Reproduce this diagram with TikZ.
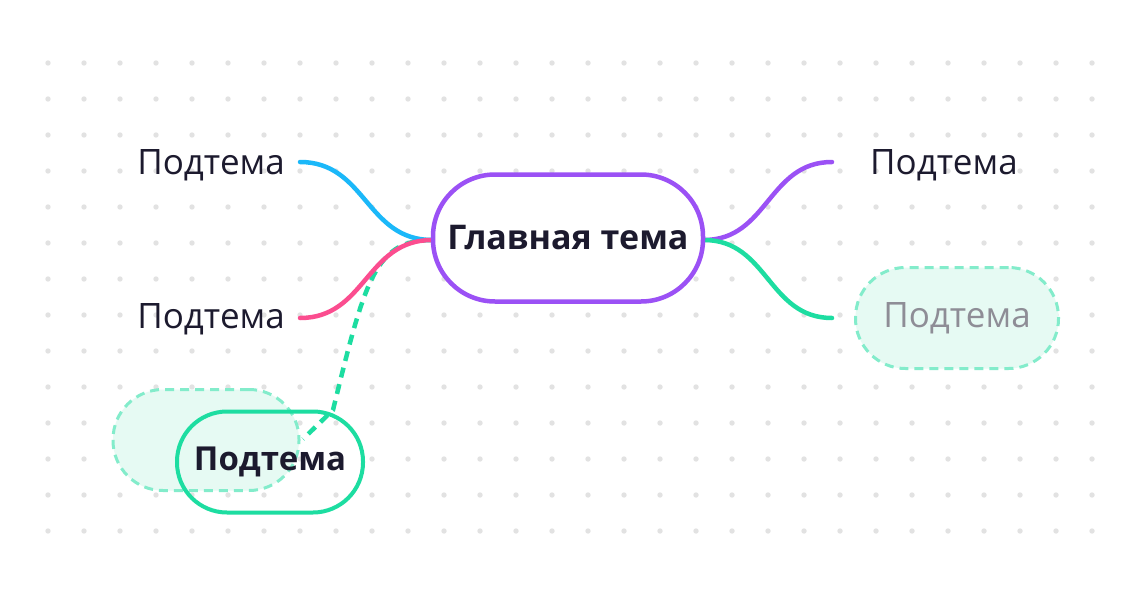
\documentclass[tikz,border=0pt]{standalone}
\usepackage{fontspec}
\setmainfont{Open Sans}
\definecolor{purp}{HTML}{9B51F5}
\definecolor{blu}{HTML}{1BB8F9}
\definecolor{pnk}{HTML}{FB4D8F}
\definecolor{grn}{HTML}{1DDDA1}
\definecolor{lgrn}{HTML}{E6FAF3}
\definecolor{ink}{HTML}{1C1A2E}
\definecolor{dotc}{HTML}{E2E2E2}
\begin{document}
\begin{tikzpicture}[x=1pt,y=-1pt,
  link/.style={line width=4.5pt,line cap=round},
  sub/.style={font=\fontsize{35}{35}\selectfont,text=ink,inner sep=0pt},
  ghost/.style={draw=grn!55,fill=lgrn,dashed,dash pattern=on 9pt off 6pt,line width=3pt,rounded corners=50pt,minimum width=203pt,minimum height=101pt},
]
\useasboundingbox (0,0) rectangle (1140,594);
\fill[white] (0,0) rectangle (1140,594);
\foreach \i in {0,...,29}{\foreach \j in {0,...,13}{\fill[dotc] (48+36*\i,63+36*\j) circle (2.7pt);}}
% ghost nodes
\node[ghost,minimum width=186pt] (g1) at (206,440) {};
\node[ghost] (g2) at (957,318) {\textcolor{ink!50}{\fontsize{35}{35}\selectfont Подтема}};
% connectors (dashed first, under the others)
\coordinate (ml) at (432,240);
\coordinate (mr) at (704,240);
\coordinate (a1) at (300,162);
\coordinate (a2) at (300,318);
\coordinate (a3) at (832,162);
\coordinate (a4) at (832,318);
\coordinate (gd) at (303,439);
\coordinate (gk) at (333,410);
\draw[link,grn,line cap=butt,dash pattern=on 10pt off 7pt] (ml) .. controls (375,240) and (365,280) .. (gk) -- (gd);
\draw[link,blu] (a1) .. controls (366,162) and (366,240) .. (ml);
\draw[link,pnk] (a2) .. controls (366,318) and (366,240) .. (ml);
\draw[link,purp] (a3) .. controls (768,162) and (768,240) .. (mr);
\draw[link,grn] (a4) .. controls (768,318) and (768,240) .. (mr);
% main
\node[draw=purp,line width=4.5pt,fill=white,rounded corners=62pt,minimum width=270pt,minimum height=127pt,font=\fontsize{34}{34}\selectfont\bfseries,text=ink] (m) at (568,238) {Главная тема};
\node[sub,anchor=east] (l1) at (285,165) {Подтема};
\node[sub,anchor=east] (l2) at (285,319) {Подтема};
\node[sub,anchor=west] (r1) at (870,165) {Подтема};
\node[draw=grn,line width=4pt,rounded corners=50pt,minimum width=186pt,minimum height=101pt,font=\fontsize{33}{33}\selectfont\bfseries,text=ink] (b) at (270,462) {Подтема};
\end{tikzpicture}
\end{document}
